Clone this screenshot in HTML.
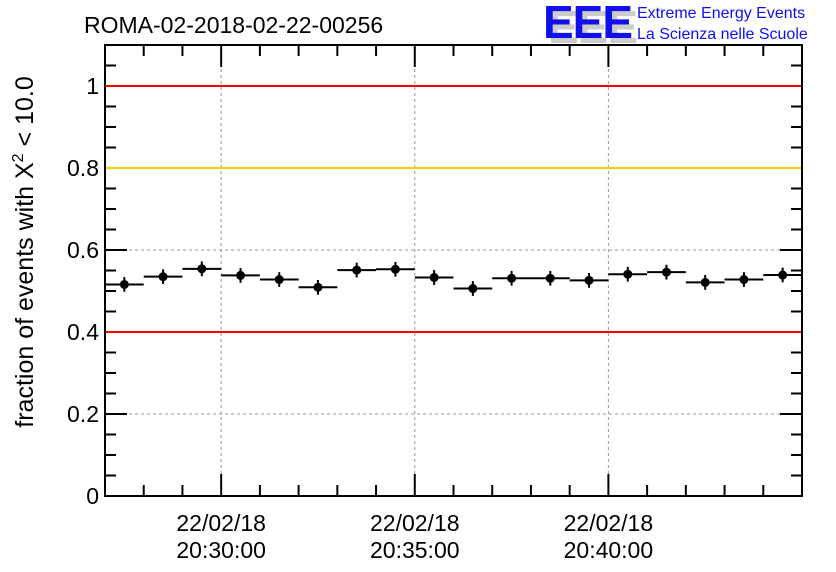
<!DOCTYPE html>
<html><head><meta charset="utf-8"><style>
body{margin:0;background:#fff;}
svg{display:block;font-family:"Liberation Sans",sans-serif;}
</style></head><body>
<svg id="c" width="836" height="572" viewBox="0 0 836 572">
<text x="84" y="33" font-size="23" fill="#000">ROMA-02-2018-02-22-00256</text>
<g>
<text x="548" y="43" font-size="46" font-weight="bold" fill="#ccc" letter-spacing="-1">EEE</text>
<text x="543" y="38" font-size="46" font-weight="bold" fill="#1010ee" letter-spacing="-1">EEE</text>
<text x="637" y="18" font-size="16" fill="#1010ee">Extreme Energy Events</text>
<text x="637" y="39" font-size="16" fill="#1010ee">La Scienza nelle Scuole</text>
</g>
<text transform="translate(33,252) rotate(-90)" text-anchor="middle" font-size="25" fill="#000">fraction of events with X<tspan dy="-10" font-size="16">2</tspan><tspan dy="10"> &lt; 10.0</tspan></text>
<g id="plot"></g>
</svg>
<script>
const values=[0.516,0.535,0.554,0.538,0.528,0.509,0.551,0.553,0.533,0.506,0.531,0.531,0.526,0.541,0.546,0.521,0.528,0.539];
const errors=[0.018,0.018,0.018,0.018,0.018,0.018,0.018,0.018,0.018,0.018,0.018,0.018,0.018,0.018,0.018,0.018,0.018,0.018];
const yTicks=[0,0.2,0.4,0.6,0.8,1];
const yTickLabels=["0","0.2","0.4","0.6","0.8","1"];
const xMajorMinutes=[3,8,13];
const xTickDates=["22/02/18","22/02/18","22/02/18"];
const xTickTimes=["20:30:00","20:35:00","20:40:00"];
const refLines=[{v:1,c:"#ff0000"},{v:0.8,c:"#ffcc00"},{v:0.4,c:"#ff0000"}];
const L=105,R=802,T=45,B=496,YMAX=1.1,NBINS=18;
const X=m=>L+(R-L)*m/NBINS;
const Y=v=>B-(B-T)*v/YMAX;
const g=document.getElementById('plot');
const NS="http://www.w3.org/2000/svg";
function mk(t,a){const e=document.createElementNS(NS,t);for(const k in a)e.setAttribute(k,a[k]);g.appendChild(e);return e;}
for(const v of [0.2,0.6]){const e=mk('line',{x1:L,x2:R,y1:Y(v),y2:Y(v),stroke:'#999','stroke-dasharray':'3,3'});

}
for(const m of xMajorMinutes){const e=mk('line',{x1:X(m),x2:X(m),y1:T,y2:B,stroke:'#999','stroke-dasharray':'3,3'});

}
const fr=mk('rect',{x:L,y:T,width:R-L,height:B-T,fill:'none',stroke:'#000','stroke-width':2});


for(let i=0;i<=22;i++){const v=i*0.05;const len=(i%4===0)?22:11;
const a=mk('line',{x1:L,x2:L+len,y1:Y(v),y2:Y(v),stroke:'#000','stroke-width':2});


const b=mk('line',{x1:R-len,x2:R,y1:Y(v),y2:Y(v),stroke:'#000','stroke-width':2});

}
yTicks.forEach((v,i)=>{const t=mk('text',{x:L-6,y:Y(v)+8,'text-anchor':'end','font-size':23});t.textContent=yTickLabels[i];

});
for(let m=0;m<=NBINS;m++){const maj=xMajorMinutes.includes(m);const len=maj?22:11;
const a=mk('line',{x1:X(m),x2:X(m),y1:B-len,y2:B,stroke:'#000','stroke-width':2});


const b=mk('line',{x1:X(m),x2:X(m),y1:T,y2:T+len,stroke:'#000','stroke-width':2});

}
xMajorMinutes.forEach((m,i)=>{
const t=mk('text',{x:X(m),y:531,'text-anchor':'middle','font-size':23});t.textContent=xTickDates[i];


const u=mk('text',{x:X(m),y:558,'text-anchor':'middle','font-size':23});u.textContent=xTickTimes[i];

});
refLines.forEach(r=>{const e=mk('line',{x1:L+1,x2:R-1,y1:Y(r.v),y2:Y(r.v),stroke:r.c,'stroke-width':2});

});
values.forEach((v,i)=>{const cx=X(i+0.5);
const h=mk('line',{x1:X(i),x2:X(i+1),y1:Y(v),y2:Y(v),stroke:'#000','stroke-width':2});


const e=mk('line',{x1:cx,x2:cx,y1:Y(v+errors[i]),y2:Y(v-errors[i]),stroke:'#000','stroke-width':2});


const c=mk('circle',{cx:cx,cy:Y(v),r:4.5,fill:'#000'});

});
</script>
</body></html>
